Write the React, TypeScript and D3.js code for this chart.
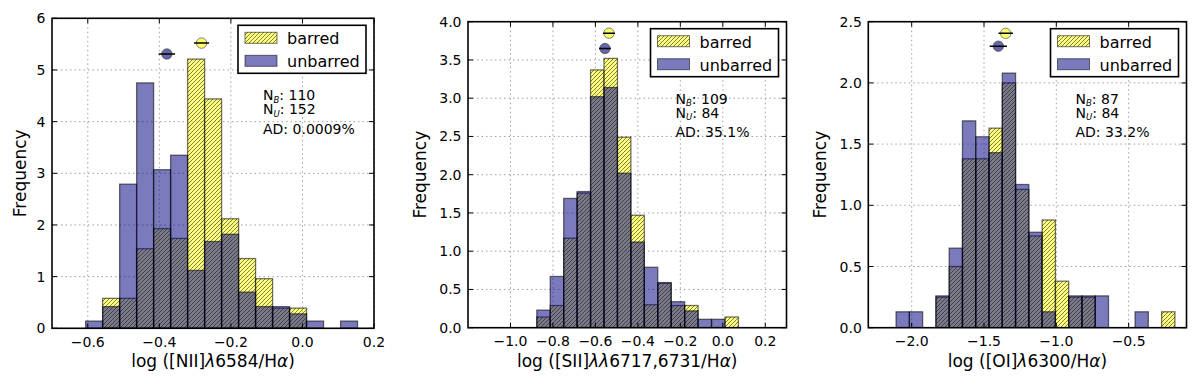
import React from "react";
import * as d3 from "d3";

// ---------- DATA ----------
// Panel 1: log([NII]6584/Ha)
const niiBinStart = -0.606;
const niiBinWidth = 0.0475;
const niiBarred = [0, 0.58, 0.58, 1.54, 1.93, 1.74, 5.21, 4.44, 2.12, 1.35, 0.96, 0.39, 0.39, 0, 0, 0];
const niiUnbarred = [0.14, 0.42, 2.79, 4.75, 3.07, 3.35, 1.12, 1.68, 1.82, 0.7, 0.42, 0.42, 0.28, 0.14, 0, 0.14];
const niiMeans = { barred: [-0.282, 5.52, 0.021], unbarred: [-0.379, 5.31, 0.023] };
const niiXTicks = [-0.6, -0.4, -0.2, 0.0, 0.2];
const niiYTicks = [0, 1, 2, 3, 4, 5, 6];
const niiStats = ["110", "152", "0.0009%"];

// Panel 2: log([SII]6717,6731/Ha)
const siiBinStart = -0.876;
const siiBinWidth = 0.0633;
const siiBarred = [0.14, 0.29, 1.17, 1.76, 3.37, 3.52, 2.49, 1.47, 0.3, 0.58, 0.29, 0.29, 0, 0, 0.14];
const siiUnbarred = [0.23, 0.67, 1.69, 1.78, 3.02, 3.14, 2.02, 1.12, 0.79, 0.59, 0.34, 0.22, 0.11, 0.11, 0];
const siiMeans = { barred: [-0.536, 3.85, 0.028], unbarred: [-0.555, 3.65, 0.028] };
const siiXTicks = [-1.0, -0.8, -0.6, -0.4, -0.2, 0.0, 0.2];
const siiYTicks = [0, 0.5, 1.0, 1.5, 2.0, 2.5, 3.0, 3.5, 4.0];
const siiStats = ["109", "84", "35.1%"];

// Panel 3: log([OI]6300/Ha)
const oiBinStart = -2.108;
const oiBinWidth = 0.0918;
const oiBarred = [0, 0, 0, 0.25, 0.5, 1.38, 1.38, 1.63, 2.0, 1.13, 0.75, 0.88, 0.38, 0.25, 0.25, 0, 0, 0, 0, 0, 0.13];
const oiUnbarred = [0.13, 0.13, 0, 0.26, 0.65, 1.69, 1.56, 1.43, 2.08, 1.17, 0.78, 0.13, 0, 0.26, 0.26, 0.26, 0, 0, 0.13, 0, 0];
const oiMeans = { barred: [-1.35, 2.405, 0.05], unbarred: [-1.401, 2.3, 0.06] };
const oiXTicks = [-2.0, -1.5, -1.0, -0.5];
const oiYTicks = [0, 0.5, 1.0, 1.5, 2.0, 2.5];
const oiStats = ["87", "84", "33.2%"];

const legendLabels = ["barred", "unbarred"];

// ---------- LAYOUT ----------
const FONT = "'DejaVu Sans', sans-serif";
const panels = [
  {
    left: 52, right: 374, top: 18.3, bottom: 328.3,
    xDomain: [-0.7, 0.2], yDomain: [0, 6],
    xTicks: niiXTicks, yTicks: niiYTicks, yFmt: "d",
    binStart: niiBinStart, binWidth: niiBinWidth,
    barred: niiBarred, unbarred: niiUnbarred, means: niiMeans, stats: niiStats,
    ylabelX: 20,
    xlabel: [["log ([NII]", false], ["λ", true], ["6584/H", false], ["α", true], [")", false]],
  },
  {
    left: 468, right: 786.5, top: 21.7, bottom: 327.7,
    xDomain: [-1.2, 0.3], yDomain: [0, 4],
    xTicks: siiXTicks, yTicks: siiYTicks, yFmt: ".1f",
    binStart: siiBinStart, binWidth: siiBinWidth,
    barred: siiBarred, unbarred: siiUnbarred, means: siiMeans, stats: siiStats,
    ylabelX: 420,
    xlabel: [["log ([SII]", false], ["λλ", true], ["6717,6731/H", false], ["α", true], [")", false]],
  },
  {
    left: 868.3, right: 1186.5, top: 21.7, bottom: 327.7,
    xDomain: [-2.3, -0.1], yDomain: [0, 2.5],
    xTicks: oiXTicks, yTicks: oiYTicks, yFmt: ".1f",
    binStart: oiBinStart, binWidth: oiBinWidth,
    barred: oiBarred, unbarred: oiUnbarred, means: oiMeans, stats: oiStats,
    ylabelX: 820,
    xlabel: [["log ([OI]", false], ["λ", true], ["6300/H", false], ["α", true], [")", false]],
  },
];

function Panel({ p, idx }: { p: any; idx: number }) {
  const x = d3.scaleLinear().domain(p.xDomain).range([p.left, p.right]);
  const y = d3.scaleLinear().domain(p.yDomain).range([p.bottom, p.top]);
  const xf = d3.format(".1f");
  const yf = d3.format(p.yFmt);
  const clip = `clip${idx}`;
  const bars = (vals: number[]) =>
    vals.map((v, i) => {
      const x0 = p.binStart + i * p.binWidth;
      return { x0, x1: x0 + p.binWidth, v };
    }).filter((b) => b.v > 0);
  const bB = bars(p.barred);
  const bU = bars(p.unbarred);
  const tick = 5;
  const lx = p.right - 8 - 128;
  const ly = p.top + 7;
  const ax = p.right - 111;
  const cx = (p.left + p.right) / 2;
  const cy = (p.top + p.bottom) / 2;
  return (
    <g>
      <defs>
        <clipPath id={clip}>
          <rect x={p.left} y={p.top} width={p.right - p.left} height={p.bottom - p.top} />
        </clipPath>
      </defs>
      {/* grid */}
      <g stroke="#888" strokeWidth={0.8} strokeDasharray="1.5,3">
        {p.xTicks.map((t: number) => (
          <line key={"gx" + t} x1={x(t)} x2={x(t)} y1={p.top} y2={p.bottom} />
        ))}
        {p.yTicks.map((t: number) => (
          <line key={"gy" + t} x1={p.left} x2={p.right} y1={y(t)} y2={y(t)} />
        ))}
      </g>
      <g clipPath={`url(#${clip})`}>
        {/* barred */}
        {bB.map((b, i) => (
          <g key={"b" + i}>
            <rect x={x(b.x0)} y={y(b.v)} width={x(b.x1) - x(b.x0)} height={y(0) - y(b.v)}
              fill="#ffff00" fillOpacity={0.5} />
            <rect x={x(b.x0)} y={y(b.v)} width={x(b.x1) - x(b.x0)} height={y(0) - y(b.v)}
              fill="url(#hatch)" stroke="#000" strokeOpacity={0.55} strokeWidth={1.3} />
          </g>
        ))}
        {/* unbarred */}
        {bU.map((b, i) => (
          <rect key={"u" + i} x={x(b.x0)} y={y(b.v)} width={x(b.x1) - x(b.x0)} height={y(0) - y(b.v)}
            fill="#000080" fillOpacity={0.52} stroke="#000" strokeOpacity={0.55} strokeWidth={1.3} />
        ))}
        {/* means */}
        {(["unbarred", "barred"] as const).map((k) => {
          const [m, yy, e] = p.means[k];
          return (
            <g key={k}>
              <circle cx={x(m)} cy={y(yy)} r={5.2}
                fill={k === "barred" ? "#ffff40" : "#4a4a9a"} fillOpacity={k === "barred" ? 0.75 : 0.85}
                stroke="#333" strokeWidth={0.6} />
              <line x1={x(m - e)} x2={x(m + e)} y1={y(yy)} y2={y(yy)} stroke="#000" strokeWidth={1.5} />
            </g>
          );
        })}
      </g>
      {/* ticks */}
      <g stroke="#000" strokeWidth={1}>
        {p.xTicks.map((t: number) => (
          <g key={"tx" + t}>
            <line x1={x(t)} x2={x(t)} y1={p.bottom} y2={p.bottom - tick} />
            <line x1={x(t)} x2={x(t)} y1={p.top} y2={p.top + tick} />
          </g>
        ))}
        {p.yTicks.map((t: number) => (
          <g key={"ty" + t}>
            <line x1={p.left} x2={p.left + tick} y1={y(t)} y2={y(t)} />
            <line x1={p.right} x2={p.right - tick} y1={y(t)} y2={y(t)} />
          </g>
        ))}
      </g>
      {/* spines */}
      <rect x={p.left} y={p.top} width={p.right - p.left} height={p.bottom - p.top}
        fill="none" stroke="#000" strokeWidth={1.6} />
      {/* tick labels */}
      <g fontFamily={FONT} fontSize={14} fill="#000">
        {p.xTicks.map((t: number) => (
          <text key={"lx" + t} x={x(t)} y={p.bottom + 18.5} textAnchor="middle">{xf(t)}</text>
        ))}
        {p.yTicks.map((t: number) => (
          <text key={"ly" + t} x={p.left - 6.5} y={y(t) + 5} textAnchor="end">{yf(t)}</text>
        ))}
      </g>
      {/* axis labels */}
      <text x={cx} y={367} textAnchor="middle" fontFamily={FONT} fontSize={17}>
        {p.xlabel.map(([s, it]: [string, boolean], i: number) => (
          <tspan key={i} fontStyle={it ? "italic" : "normal"}>{s}</tspan>
        ))}
      </text>
      <text transform={`translate(${p.ylabelX + 6},${cy}) rotate(-90)`} textAnchor="middle"
        fontFamily={FONT} fontSize={17}>Frequency</text>
      {/* legend */}
      <rect x={lx} y={ly} width={128} height={48} fill="#fff" stroke="#000" strokeWidth={1.6} />
      <rect x={lx + 7} y={ly + 7} width={32} height={11} fill="#ffff00" fillOpacity={0.5} />
      <rect x={lx + 7} y={ly + 7} width={32} height={11} fill="url(#hatch)" stroke="#000" strokeOpacity={0.55} />
      <rect x={lx + 7} y={ly + 30} width={32} height={11} fill="#000080" fillOpacity={0.52} stroke="#000" strokeOpacity={0.55} />
      <g fontFamily={FONT} fontSize={16}>
        <text x={lx + 49} y={ly + 19}>{legendLabels[0]}</text>
        <text x={lx + 49} y={ly + 42}>{legendLabels[1]}</text>
      </g>
      {/* stats */}
      <g fontFamily={FONT} fontSize={14}>
        <text x={ax} y={p.top + 82}>
          N<tspan fontSize={8.5} fontStyle="italic" dy={2.5}>B</tspan><tspan dy={-2.5}>: {p.stats[0]}</tspan>
        </text>
        <text x={ax} y={p.top + 96}>
          N<tspan fontSize={8.5} fontStyle="italic" dy={2.5}>U</tspan><tspan dy={-2.5}>: {p.stats[1]}</tspan>
        </text>
        <text x={ax} y={p.top + 115.5}>AD: {p.stats[2]}</text>
      </g>
    </g>
  );
}

export default function App() {
  return (
    <svg width={1200} height={385} style={{ position: "absolute", left: 0, top: 0, background: "#fff" }}>
      <defs>
        <pattern id="hatch" patternUnits="userSpaceOnUse" width={4} height={4}>
          <path d="M-1,1 L1,-1 M0,4 L4,0 M3,5 L5,3" stroke="#000" strokeOpacity={0.55} strokeWidth={0.9} />
        </pattern>
      </defs>
      <rect x={0} y={0} width={1200} height={385} fill="#fff" />
      {panels.map((p, i) => (
        <Panel key={i} p={p} idx={i} />
      ))}
    </svg>
  );
}
